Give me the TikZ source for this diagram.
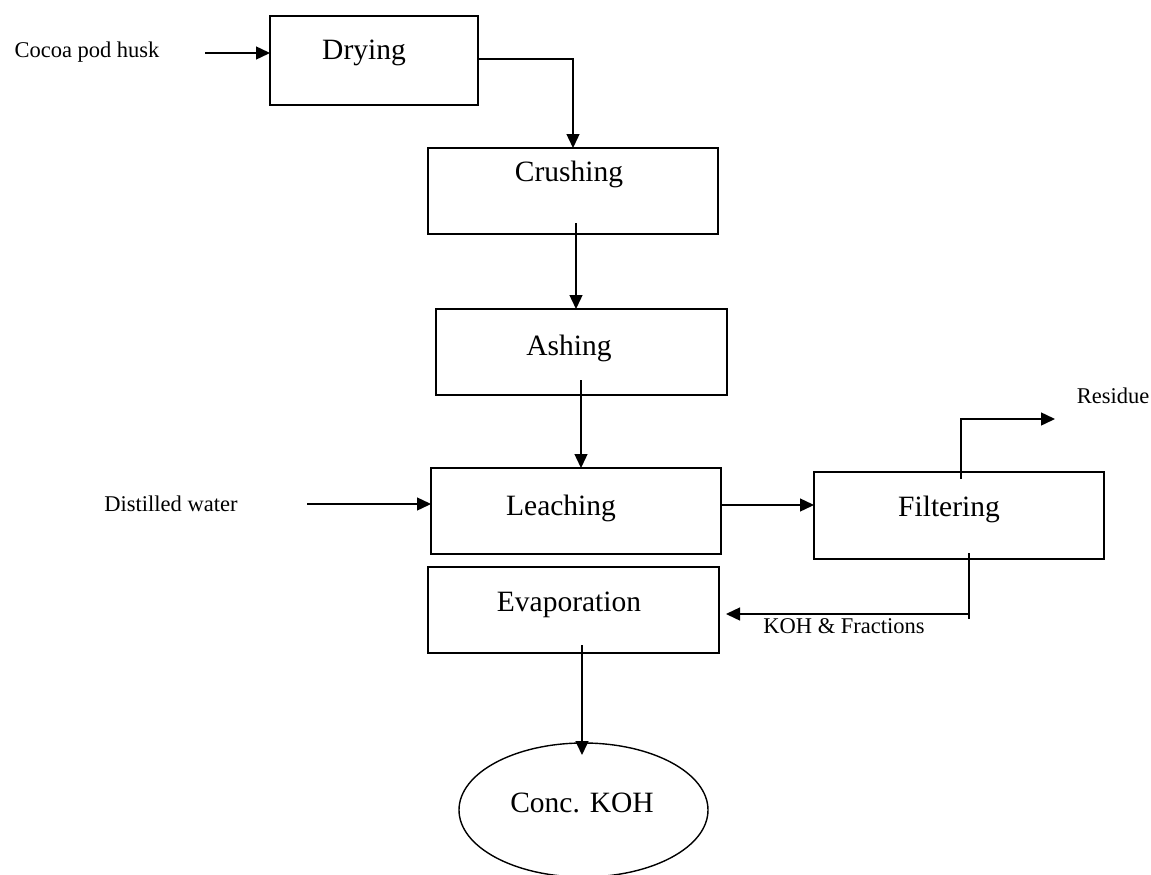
\documentclass[tikz,border=0pt]{standalone}
\usepackage{fontspec}
\setmainfont{Liberation Serif}
\usetikzlibrary{arrows.meta,shapes.geometric,calc}
\begin{document}
\begin{tikzpicture}[x=1pt,y=-1pt,
  procbox/.style={draw=black,line width=1.4pt,rectangle,inner sep=0pt,outer sep=0pt},
  bigtxt/.style={font=\fontsize{29.5}{32}\selectfont,inner sep=0pt},
  smalltxt/.style={font=\fontsize{22.5}{25}\selectfont,inner sep=0pt},
  arr/.style={line width=1.4pt,-{Triangle[length=14pt,width=13pt]}},
  ln/.style={line width=1.4pt}]
\useasboundingbox[fill=white] (0,0) rectangle (1151,875);
% boxes
\node[procbox,minimum width=208pt,minimum height=89pt] (dry) at (374,60.5) {};
\node[procbox,minimum width=290pt,minimum height=86pt] (crush) at (573,191) {};
\node[procbox,minimum width=291pt,minimum height=86pt] (ash) at (581.5,352) {};
\node[procbox,minimum width=290pt,minimum height=86pt] (leach) at (576,511) {};
\node[procbox,minimum width=290pt,minimum height=87pt] (filt) at (959,515.5) {};
\node[procbox,minimum width=291pt,minimum height=86pt] (evap) at (573.5,610) {};
\node[draw=black,line width=1.4pt,ellipse,minimum width=249pt,minimum height=134pt,inner sep=0pt,outer sep=0pt] (kohe) at (583.5,810) {};
% box texts
\node[bigtxt] (tdry) at (364,53) {Drying};
\node[bigtxt] (tcrush) at (569,174) {Crushing};
\node[bigtxt] (tash) at (569,348) {Ashing};
\node[bigtxt] (tleach) at (561,508) {Leaching};
\node[bigtxt] (tfilt) at (949,509) {Filtering};
\node[bigtxt] (tevap) at (569,605) {Evaporation};
\node[bigtxt] (tkoh) at (582,803) {Conc. KOH};
% side labels
\node[smalltxt] (lcocoa) at (87,52) {Cocoa pod husk};
\node[smalltxt] (lwater) at (171,504) {Distilled water};
\node[smalltxt] (lkoh) at (844,626) {KOH \& Fractions};
\node[smalltxt] (lres) at (1113,396) {Residue};
% free ends and bends
\coordinate (cin) at (205,53);
\coordinate (win) at (307,504);
\coordinate (resend) at (1055,419);
\coordinate (kbend) at (969,614);
\coordinate (kend) at (726,614);
\coordinate (etop) at (582,645);
\coordinate (atop) at (581,380);
% connectors
\draw[arr] (cin) -- (cin -| dry.west);
\draw[arr] ([yshift=1.5pt]dry.east) -| (crush.north);
\draw[arr] ([xshift=3pt,yshift=11pt]crush.south) -- ([xshift=3pt]crush.south |- ash.north);
\draw[arr] (atop) -- (atop |- leach.north);
\draw[arr] (win) -- (win -| leach.west);
\draw[arr] ([yshift=6pt]leach.east) -- ([yshift=6pt]leach.east -| filt.west);
\draw[arr] ([xshift=2pt,yshift=-7pt]filt.north) |- (resend);
\draw[ln] (kbend |- filt.south) ++(0,-6) -- ([yshift=-5pt]kbend);
\draw[arr] (kbend) -- (kend);
\draw[arr] (etop) -- ([yshift=-12pt]etop |- kohe.north);
\end{tikzpicture}
\end{document}
